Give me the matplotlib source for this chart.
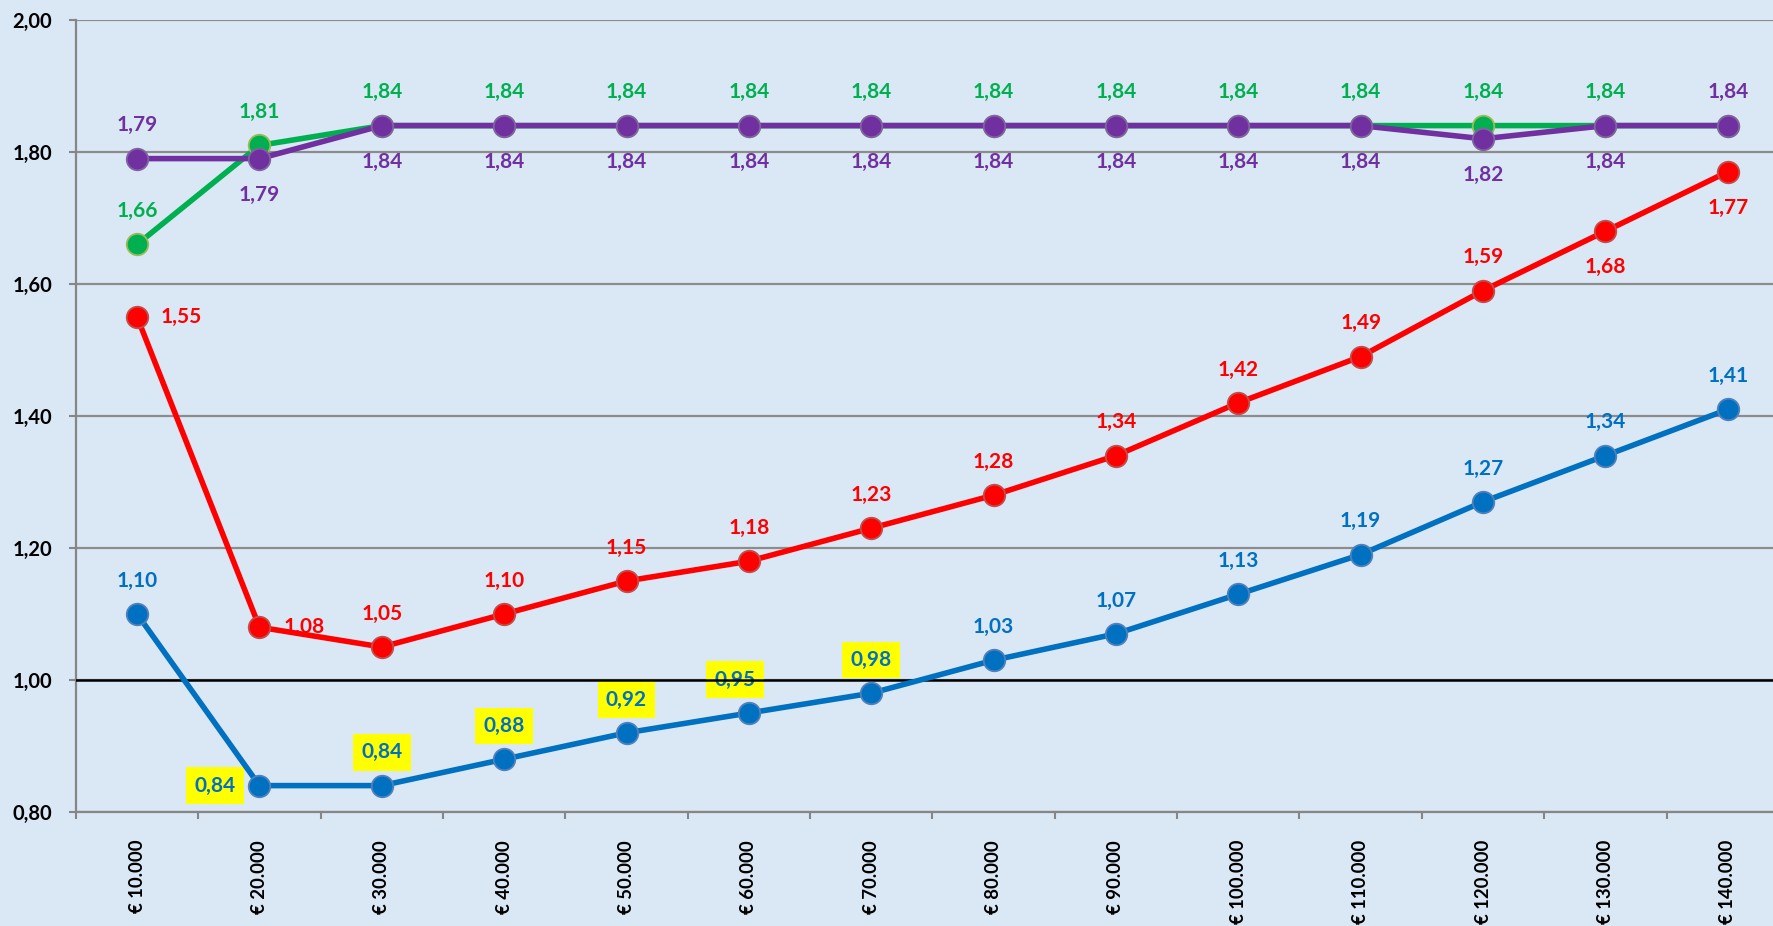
import matplotlib.pyplot as plt
import numpy as np

plt.rcParams['font.family'] = ['Lato', 'DejaVu Sans']
plt.rcParams['font.weight'] = 'bold'

incomes = ['€ 10.000', '€ 20.000', '€ 30.000', '€ 40.000', '€ 50.000', '€ 60.000', '€ 70.000',
           '€ 80.000', '€ 90.000', '€ 100.000', '€ 110.000', '€ 120.000', '€ 130.000', '€ 140.000']

green = [1.66, 1.81, 1.84, 1.84, 1.84, 1.84, 1.84, 1.84, 1.84, 1.84, 1.84, 1.84, 1.84, 1.84]
purple = [1.79, 1.79, 1.84, 1.84, 1.84, 1.84, 1.84, 1.84, 1.84, 1.84, 1.84, 1.82, 1.84, 1.84]
red = [1.55, 1.08, 1.05, 1.10, 1.15, 1.18, 1.23, 1.28, 1.34, 1.42, 1.49, 1.59, 1.68, 1.77]
blue = [1.10, 0.84, 0.84, 0.88, 0.92, 0.95, 0.98, 1.03, 1.07, 1.13, 1.19, 1.27, 1.34, 1.41]

# label placement per point: 'a' above, 'b' below, 'r' right, 'l' left, '' none
green_pos = ['a'] * 13 + ['']
purple_pos = ['a', 'b'] + ['b'] * 11 + ['a']
red_pos = ['r', 'r'] + ['a'] * 10 + ['b', 'b']
blue_pos = ['a', 'l'] + ['a'] * 12
blue_boxed = [False, True, True, True, True, True, True] + [False] * 7

fig = plt.figure(figsize=(17.74, 9.26), dpi=100)
bg = '#dae7f4'
fig.patch.set_facecolor(bg)
ax = fig.add_axes([0.0428, 0.1231, 0.9656, 0.8553])
ax.set_facecolor(bg)

x = np.arange(len(incomes))

offsets = {'a': (0, 24), 'b': (0, -26), 'r': (32, 0), 'l': (-32, 0)}


def label_series(vals, pos, color, boxed=None):
    for i, (v, p) in enumerate(zip(vals, pos)):
        if not p:
            continue
        dx, dy = offsets[p]
        bbox = None
        if boxed is not None and boxed[i]:
            bbox = dict(boxstyle='square,pad=0.4', fc='#ffff00', ec='none')
        if i == 5 and boxed is not None:
            dx = -10
        ax.annotate(f'{v:.2f}'.replace('.', ','), (x[i], v), xytext=(dx, dy),
                    textcoords='offset points', ha='center', va='center',
                    fontsize=15, fontweight='bold', color=color, bbox=bbox, zorder=3)


series = [
    (green, green_pos, '#00b050', '#9bbb59', None),
    (purple, purple_pos, '#7030a0', '#8064a2', None),
    (red, red_pos, '#ff0000', '#c0504d', None),
    (blue, blue_pos, '#0070c0', '#4f81bd', blue_boxed),
]

for k, (vals, pos, c, ec, boxed) in enumerate(series):
    ax.plot(x, vals, color=c, lw=4.0, marker='o', ms=15.5, mfc=c, mec=ec, mew=1.3,
            zorder=5 + k)
    label_series(vals, pos, c, boxed)

ax.axhline(1.0, color='black', lw=1.8, zorder=4)

ax.set_xlim(-0.5, len(incomes) - 0.5)
ax.set_ylim(0.8, 2.0)
ax.set_yticks(np.arange(0.8, 2.01, 0.2))
ax.set_yticklabels([f'{t:.2f}'.replace('.', ',') for t in np.arange(0.8, 2.01, 0.2)],
                   fontsize=14.5, fontweight='bold')
ax.yaxis.grid(True, color='#8c8c8c', lw=1.6, zorder=1)
ax.set_axisbelow(True)

ax.set_xticks(x)
ax.set_xticklabels(incomes, rotation=90, fontsize=13.3, fontweight='bold', va='top')
ax.set_xticks(np.arange(-0.5, len(incomes), 1), minor=True)
ax.tick_params(axis='x', which='major', length=0, pad=20)
ax.tick_params(axis='x', which='minor', length=5, width=1.5, color='#868686')
ax.tick_params(axis='y', length=5, width=1.5, color='#868686', pad=12)

for s in ['top', 'right']:
    ax.spines[s].set_visible(False)
for s in ['left', 'bottom']:
    ax.spines[s].set_color('#868686')
    ax.spines[s].set_linewidth(1.6)

fig.savefig('out.png', dpi=100, facecolor=bg)
